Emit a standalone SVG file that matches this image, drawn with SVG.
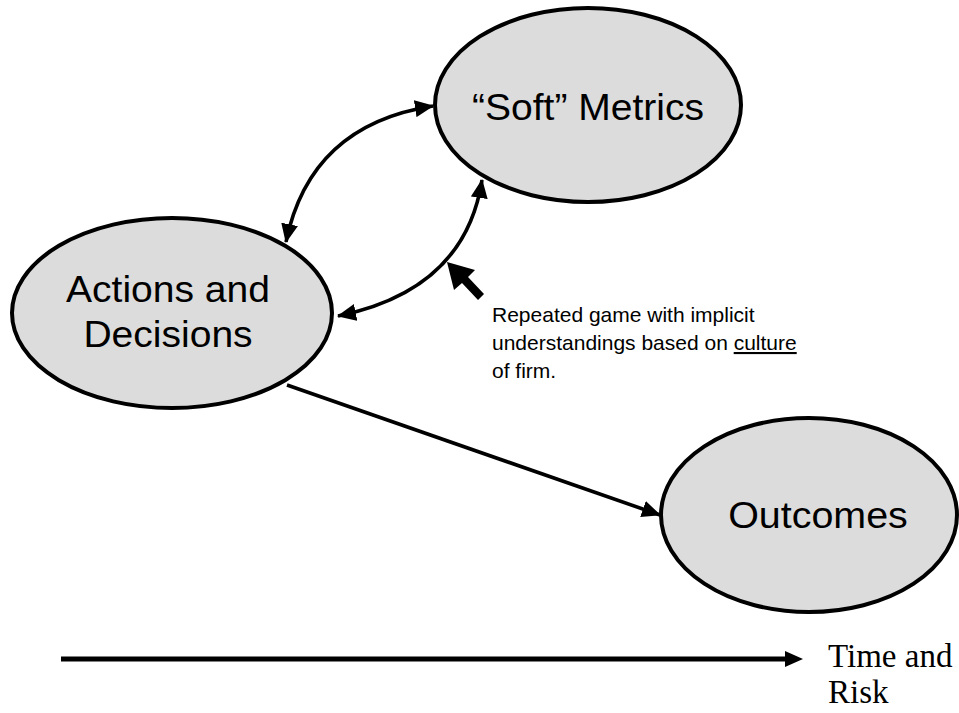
<svg xmlns="http://www.w3.org/2000/svg" width="959" height="713" viewBox="0 0 959 713">
<defs>
<style>
.node ellipse{fill:#dcdcdc;stroke:#000;stroke-width:4}
.lbl{font-family:"Liberation Sans",Arial,sans-serif;font-size:36.5px;fill:#000;text-anchor:middle}
.note{font-family:"Liberation Sans",Arial,sans-serif;font-size:21px;fill:#000}
.serif{font-family:"Liberation Serif","Times New Roman",serif;font-size:33px;fill:#000}
.conn{fill:none;stroke:#000;stroke-width:3.6}
</style>
<marker id="ah" markerUnits="userSpaceOnUse" markerWidth="19" markerHeight="17" viewBox="0 0 19 17" refX="18" refY="8.5" orient="auto-start-reverse">
<path d="M0,0 L19,8.5 L0,17 Z" fill="#000"/>
</marker>
</defs>
<rect width="959" height="713" fill="#fff"/>
<g id="connectors">
<path class="conn" d="M433,106 Q310,125 286,242" marker-start="url(#ah)" marker-end="url(#ah)"/>
<path class="conn" d="M482,180 Q465,290 338,316" marker-start="url(#ah)" marker-end="url(#ah)"/>
<path class="conn" d="M287,385 L660,515" marker-end="url(#ah)"/>
<path d="M61,659 L787,659" stroke="#000" stroke-width="5" fill="none"/>
<path d="M785,651 L803,659 L785,667 Z" fill="#000"/>
<path d="M447,262 L454,290 L462,283 L478,300 L484,294 L468,277 L475,270 Z" fill="#000"/>
</g>
<g id="soft" class="node">
<ellipse cx="588" cy="105" rx="153" ry="97"/>
<text class="lbl" transform="translate(588,120) scale(1.07,1)">“Soft” Metrics</text>
</g>
<g id="actions" class="node">
<ellipse cx="172" cy="313" rx="160" ry="95"/>
<text class="lbl" transform="translate(168,302) scale(1.07,1)">Actions and</text>
<text class="lbl" transform="translate(168,347) scale(1.07,1)">Decisions</text>
</g>
<g id="outcomes" class="node">
<ellipse cx="809" cy="515" rx="148" ry="97"/>
<text class="lbl" transform="translate(818,528) scale(1.08,1)">Outcomes</text>
</g>
<g id="note">
<text class="note" x="492" y="322">Repeated game with implicit</text>
<text class="note" x="492" y="350">understandings based on <tspan text-decoration="underline">culture</tspan></text>
<text class="note" x="492" y="378">of firm.</text>
</g>
<g id="axis-label">
<text class="serif" x="828" y="667">Time and</text>
<text class="serif" x="828" y="703">Risk</text>
</g>
</svg>
